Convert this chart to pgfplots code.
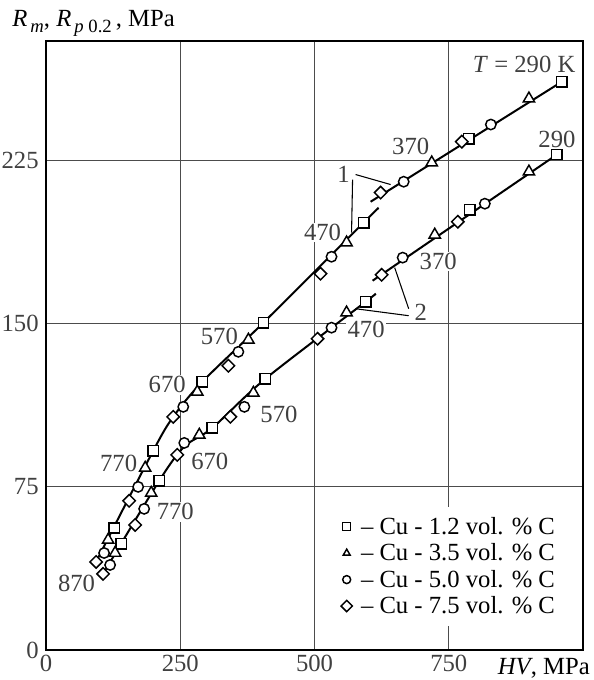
\documentclass[border=0pt]{standalone}
\usepackage{fontspec}
\setmainfont{Liberation Serif}
\usepackage{pgfplots}
\usepackage{pgfplotstable}
\pgfplotsset{compat=1.18}
\newcommand{\fs}{\fontsize{18.5}{20}\selectfont}

% columns: T, HV and stress on curve 1 (upper), HV and stress on curve 2 (lower)
\pgfplotstableread{
T hvU rU hvL rL
290 960.8 261.3 951.5 227.8
370 787.3 235.1 789.2 202.4
470 591.4 196.5 595.2 160.1
570 404.9 150.5 408.6 124.7
670 291.0 123.3 309.7 102.1
770 199.6 91.6 210.8 77.8
870 126.9 56.1 139.9 48.8
}\tsq
\pgfplotstableread{
T hvU rU hvL rL
290 899.3 253.5 899.3 219.9
370 718.3 224.1 723.9 190.9
470 559.7 187.3 559.7 155.1
570 376.9 142.6 386.2 118.2
670 281.7 118.7 285.5 98.9
770 184.7 83.7 195.9 72.2
870 115.7 50.6 128.7 44.6
}\ttri
\pgfplotstableread{
T hvU rU hvL rL
290 828.4 241.6 817.2 205.2
370 666.1 215.3 664.2 180.4
470 531.7 180.8 531.7 148.2
570 358.2 137.1 369.4 111.8
670 255.6 111.8 257.5 95.2
770 171.6 75.0 182.8 64.9
870 108.2 44.6 119.4 39.1
}\tcir
\pgfplotstableread{
T hvU rU hvL rL
290 774.3 233.7 766.8 196.9
370 623.1 210.3 625.0 172.5
470 511.2 173.0 505.6 143.1
570 339.6 130.7 343.3 107.2
670 236.9 107.2 244.4 89.7
770 154.9 68.6 166.0 57.5
870 93.3 40.5 106.3 35.0
}\tdia

\begin{document}
\begin{tikzpicture}
\useasboundingbox (-34.5pt,-22.5pt) rectangle (410.25pt,487.5pt);
\begin{axis}[
  at={(0,0)}, anchor=south west,
  scale only axis, width=402.75pt, height=456.75pt,
  xmin=0, xmax=1000, ymin=0, ymax=280,
  xtick={0,250,500,750}, ytick={0,75,150,225},
  grid=major, major grid style={black!70, line width=0.6pt},
  axis line style={line width=2pt},
  major tick length=0pt,
  /pgf/number format/assume math mode=true,
  tick label style={font=\fs, text=black!75},
  yticklabel style={xshift=-2pt},
  xticklabel style={yshift=-0.5pt},
  clip=false,
  legend style={at={(axis cs:539,65.8)}, anchor=north west, draw=none,
    fill=white, font=\fs, inner xsep=4pt, inner ysep=6pt,
    nodes={inner sep=1.5pt}, row sep=2.5pt},
  legend cell align=left,
  legend image post style={mark size=3pt, line width=1.3pt},
]
% curve lines
\addplot[line width=1.5pt, no marks, forget plot] coordinates {(604.5,206.1) (960.8,261.3)};
\addplot[line width=1.5pt, no marks, smooth, forget plot] coordinates {(93.3,40.5) (199.6,91.6) (236.9,107.2) (291.0,123.3) (404.9,150.5) (591.4,196.5) (619.4,203.3)};
\addplot[line width=1.5pt, no marks, forget plot] coordinates {(608.2,169.8) (951.5,227.8)};
\addplot[line width=1.5pt, no marks, smooth, forget plot] coordinates {(106.3,35.0) (210.8,77.8) (257.5,93.5) (309.7,102.1) (408.6,124.7) (595.2,160.1) (612.0,163.4)};
% leader lines
\draw[line width=0.8pt] (axis cs:576.5,218.6) -- (axis cs:641.8,214.0);
\draw[line width=0.8pt] (axis cs:570.9,216.3) -- (axis cs:569.0,191.9);
\draw[line width=0.8pt] (axis cs:675.4,156.9) -- (axis cs:649.3,175.8);
\draw[line width=0.8pt] (axis cs:675.4,153.7) -- (axis cs:576.5,156.9);
% markers
\addplot[only marks, mark=square*, mark size=3.9pt, mark options={fill=white, draw=black, line width=1.1pt}] table[x=hvU, y=rU] {\tsq};
\addlegendentry{\hspace{5pt}– Cu - 1.2 vol. \% C}
\addplot[only marks, mark=triangle*, mark size=4.9pt, mark options={fill=white, draw=black, line width=1.1pt}] table[x=hvU, y=rU] {\ttri};
\addlegendentry{\hspace{5pt}– Cu - 3.5 vol. \% C}
\addplot[only marks, mark=*, mark size=3.9pt, mark options={fill=white, draw=black, line width=1.1pt}] table[x=hvU, y=rU] {\tcir};
\addlegendentry{\hspace{5pt}– Cu - 5.0 vol. \% C}
\addplot[only marks, mark=square*, mark size=3.3pt, mark options={fill=white, draw=black, line width=1.1pt, rotate=45}] table[x=hvU, y=rU] {\tdia};
\addlegendentry{\hspace{5pt}– Cu - 7.5 vol. \% C}
\addplot[only marks, mark=square*, mark size=3.9pt, mark options={fill=white, draw=black, line width=1.1pt}, forget plot] table[x=hvL, y=rL] {\tsq};
\addplot[only marks, mark=triangle*, mark size=4.9pt, mark options={fill=white, draw=black, line width=1.1pt}, forget plot] table[x=hvL, y=rL] {\ttri};
\addplot[only marks, mark=*, mark size=3.9pt, mark options={fill=white, draw=black, line width=1.1pt}, forget plot] table[x=hvL, y=rL] {\tcir};
\addplot[only marks, mark=square*, mark size=3.3pt, mark options={fill=white, draw=black, line width=1.1pt, rotate=45}, forget plot] table[x=hvL, y=rL] {\tdia};
% labels
\tikzset{tl/.style={font=\fs, text=black!75, fill=white, inner sep=1pt}}
\node[tl, anchor=east] at (axis cs:988.8,269.2) {\textit{T} = 290 K};
\node[tl] at (axis cs:951.5,234.6) {290};
\node[tl] at (axis cs:679.1,231.4) {370};
\node[tl] at (axis cs:730.4,178.5) {370};
\node[tl] at (axis cs:514.9,191.9) {470};
\node[tl] at (axis cs:596.1,147.2) {470};
\node[tl] at (axis cs:322.8,144.0) {570};
\node[tl] at (axis cs:433.8,108.1) {570};
\node[tl] at (axis cs:225.7,121.9) {670};
\node[tl] at (axis cs:305.0,86.5) {670};
\node[tl] at (axis cs:135.3,86.0) {770};
\node[tl] at (axis cs:240.7,63.5) {770};
\node[tl] at (axis cs:56.9,30.8) {870};
\node[tl, fill=none] at (axis cs:554.1,218.6) {1};
\node[tl, fill=none] at (axis cs:697.8,155.1) {2};
% axis titles
\node[anchor=base west, font=\fs, inner sep=0pt] at ([xshift=-25.5pt, yshift=10.5pt]rel axis cs:0,1)
  {\textit{R}\raisebox{-0.45ex}{\fontsize{14}{14}\selectfont\,\textit{m}}, \textit{R}\raisebox{-0.45ex}{\fontsize{14}{14}\selectfont\,\textit{p} 0.2}\,, MPa};
\node[anchor=base east, font=\fs, inner sep=0pt] at ([xshift=5.25pt, yshift=-18pt]rel axis cs:1,0)
  {\textit{HV}, MPa};
\end{axis}
\end{tikzpicture}
\end{document}
